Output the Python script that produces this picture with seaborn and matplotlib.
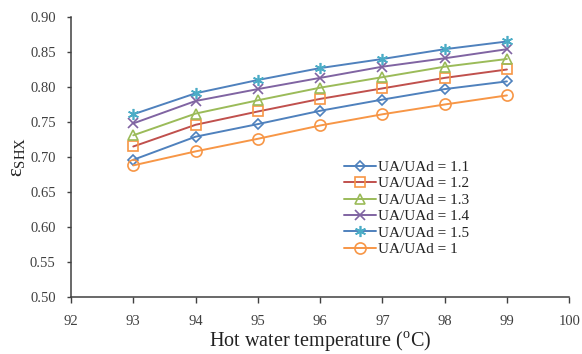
import matplotlib
matplotlib.use("Agg")
import matplotlib.pyplot as plt
import seaborn as sns
import pandas as pd

# Hot water temperature (°C)
temperature = [93, 94, 95, 96, 97, 98, 99]

# Effectiveness of the solution heat exchanger for each UA/UAd ratio
eff_11 = [0.696, 0.729, 0.747, 0.766, 0.782, 0.797, 0.808]
eff_12 = [0.715, 0.746, 0.765, 0.783, 0.798, 0.813, 0.825]
eff_13 = [0.731, 0.762, 0.781, 0.799, 0.814, 0.829, 0.840]
eff_14 = [0.748, 0.780, 0.797, 0.813, 0.829, 0.841, 0.854]
eff_15 = [0.761, 0.791, 0.810, 0.827, 0.840, 0.854, 0.865]
eff_10 = [0.688, 0.708, 0.726, 0.745, 0.761, 0.775, 0.788]

labels = ["UA/UAd = 1.1", "UA/UAd = 1.2", "UA/UAd = 1.3",
          "UA/UAd = 1.4", "UA/UAd = 1.5", "UA/UAd = 1"]
series = [eff_11, eff_12, eff_13, eff_14, eff_15, eff_10]

x_ticks = [92, 93, 94, 95, 96, 97, 98, 99, 100]
y_ticks = [0.50, 0.55, 0.60, 0.65, 0.70, 0.75, 0.80, 0.85, 0.90]

sns.set_theme(style="white")
plt.rcParams["font.family"] = ["Liberation Serif", "DejaVu Serif"]
plt.rcParams["mathtext.fontset"] = "stix"

# line colour, marker colour, marker, marker size, filled?
styles = [
    ("#4F81BD", "#4F81BD", "D", 5, False),
    ("#C0504D", "#F79646", "s", 7.5, False),
    ("#9BBB59", "#9BBB59", "^", 7.5, False),
    ("#8064A2", "#8064A2", "x", 7, True),
    ("#4F81BD", "#4BACC6", (6, 2, 0), 8, True),
    ("#F79646", "#F79646", "o", 8, False),
]

fig, ax = plt.subplots(figsize=(5.82, 3.54), dpi=100)
fig.subplots_adjust(left=0.122, right=0.978, bottom=0.161, top=0.952)

for lab, vals, (lc, mc, mk, ms, filled) in zip(labels, series, styles):
    df = pd.DataFrame({"T": temperature, "eff": vals})
    sns.lineplot(data=df, x="T", y="eff", ax=ax, color=lc, label=lab,
                 marker=mk, markersize=ms, markeredgecolor=mc,
                 markerfacecolor=(mc if filled else "none"),
                 markeredgewidth=1.2, linewidth=1.4)

ax.set_xlim(92, 100)
ax.set_ylim(0.50, 0.90)
ax.set_xticks(x_ticks)
ax.set_xticklabels([str(t) for t in x_ticks])
ax.set_yticks(y_ticks)
ax.set_yticklabels([f"{v:.2f}" for v in y_ticks])
ax.tick_params(axis="both", which="major", colors="#404040",
               direction="out", width=1, bottom=True, left=True,
               labelcolor="#404040")
ax.tick_params(axis="x", labelsize=10.5, length=4, pad=9)
ax.tick_params(axis="y", labelsize=10.5, length=3, pad=8)

for side in ["top", "right"]:
    ax.spines[side].set_visible(False)
for side in ["left", "bottom"]:
    ax.spines[side].set_color("#404040")
    ax.spines[side].set_linewidth(1.1)

ax.set_xlabel(r"Hot water temperature ($^{\mathregular{o}}$C)", fontsize=14.5,
              color="#222222", labelpad=0.5)
ax.set_ylabel(r"$\mathregular{\varepsilon_{SHX}}$", fontsize=15, color="#222222",
              labelpad=2)

leg = ax.legend(loc="upper left", bbox_to_anchor=(0.535, 0.51), frameon=False,
                fontsize=11, handlelength=2.1, handletextpad=0.15,
                labelspacing=0.18, borderaxespad=0)
for t in leg.get_texts():
    t.set_color("#222222")

fig.savefig("out.png", dpi=100)
